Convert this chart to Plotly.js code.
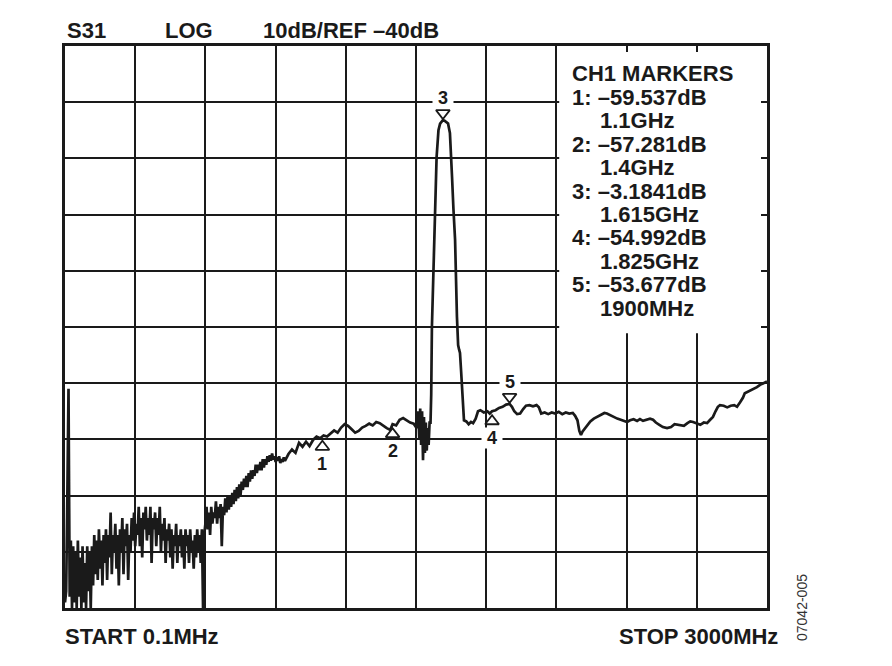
<!DOCTYPE html>
<html>
<head>
<meta charset="utf-8">
<script src="https://cdn.plot.ly/plotly-3.0.1.min.js"></script>
<style>body{margin:0;background:#fff}</style>
</head>
<body>
<div id="myDiv" style="width:892px;height:666px;"></div>
<script>
// S31 sweep, 0.1MHz .. 3000MHz
var lowFreq = [0.1,5,10,15,20,25,30,35,40,45,50,55,60,65,70,75,80,85,90,95,100,105,110,115,120,125,130,135,140,145,150,155,160,165,170,175,180,185,190,195,200,205,210,215,220,225,230,235,240,245,250,255,260,265,270,275,280,285,290,295,300,305,310,315,320,325,330,335,340,345,350,355,360,365,370,375,380,385,390,395,400,405,410,415,420,425,430,435,440,445,450,455,460,465,470,475,480,485,490,495,500,505,510,515,520,525,530,535,540,545,550,555,560,565,570,575,580,585,590,595];
var lowDb = [-89,-87,-70,-51,-88,-78,-90,-79,-89,-80,
  -90,-78,-88,-81,-90,-79,-89,-82,-90,-79,
  -87,-80,-90,-79,-86,-77,-84,-78,-85,-76,
  -83,-78,-86,-77,-82,-76,-85,-77,-81,-73,
  -84,-77,-80,-75,-83,-77,-86,-76,-80,-74,
  -84,-76,-79,-75,-85,-77,-80,-74,-78,-73,
  -79,-75,-77,-72,-79,-74,-81,-73,-76,-72,
  -78,-74,-77,-72,-82,-74,-76,-73,-79,-74,
  -77,-72,-80,-75,-78,-74,-82,-76,-78,-75,
  -81,-76,-83,-77,-79,-75,-82,-77,-79,-76,
  -81,-77,-83,-76,-79,-77,-82,-76,-80,-78,
  -83,-77,-81,-76,-80,-77,-82,-76,-90,-77];

var riseFreq = [600,605,610,615,620,625,630,635,640,645,650,655,660,665,670,675,680,685,690,695,700,705,710,715,720,725,730,735,740,745,750,755,760,765,770,775,780,785,790,795,800,805,810,815,820,825,830,835,840,845,850,855,860,865,870,875,880,885,890,895,900,905,910,915,920,925,930,935];
var riseDb = [-75,-72,-76,-73,-77,-72,-75,-73,-74,-71,
  -75,-72,-74,-71.5,-79,-72,-73.5,-70.5,-73,-70,
  -72.5,-70,-72,-69.5,-71.5,-69,-71,-68.5,-70.5,-68,
  -70,-67.5,-69,-67,-68.5,-66.5,-68.5,-66,-67.5,-65.5,
  -67,-65.5,-66.5,-64.5,-66,-64.5,-65.5,-64,-65.5,-63.5,
  -65,-63.5,-64.5,-63,-64,-62.8,-63.8,-62.5,-63.6,-63,
  -64,-63.2,-63.8,-63,-64.2,-63.5,-64,-63.2];

var midFreq = [940,955,970,985,1000,1015,1030,1045,1060,1075,1090,1105,1120,1135,1150,1165,1180,1195,1210,1225,1240,1255,1270,1285,1300,1315,1330,1345,1360,1375,1390,1400,1415,1430,1445,1460,1475,1490,1500];
var midDb = [-63.8,-62.6,-61.8,-62.4,-60.6,-61.3,-60.4,-61.2,-60.1,-59.5,
  -59.8,-59.3,-59.5,-58.9,-58.4,-58.8,-57.9,-57.3,-57.6,-58.2,
  -58.8,-58.5,-57.9,-57.6,-57.2,-57.5,-56.9,-57.1,-57.6,-58,
  -58.3,-57.3,-57.5,-56.5,-56.2,-56.6,-57,-57.2,-57.8];

var peakFreq = [1505,1510,1514,1518,1522,1526,1530,1534,1538,1542,1546,1550,1554,1558,1562,1565,1568,1573,1581,1588,1596,1603,1610,1615,1622,1630,1637,1645,1650,1654,1660,1667,1675,1680,1684,1688,1693,1697,1701,1705];
var peakDb = [-57.8,-55,-60,-54.5,-61,-55,-63.7,-56,-62.4,-57,
  -62,-58,-61,-57,-57,-52,-40,-30,-20.4,-9.8,
  -5,-3.8,-3.3,-3.2,-3.3,-3.5,-3.8,-5.5,-9,-13.3,
  -19,-24.5,-38.2,-43.2,-44,-44.6,-48,-51.7,-55,-56.6];

var highFreq = [1715,1725,1735,1744,1755,1765,1775,1790,1805,1815,1825,1840,1855,1870,1885,1900,1910,1920,1932,1945,1958,1970,1985,2000,2015,2025,2035,2050,2065,2080,2095,2110,2125,2140,2155,2170,2180,2190,2198,2205,2212,2220,2231,2245,2260,2275,2290,2305,2316,2330,2345,2360,2375,2390,2402,2415,2430,2445,2457,2470,2485,2500,2513,2525,2540,2555,2573,2590,2605,2628,2645,2660,2672,2684,2700,2715,2730,2744,2755,2769,2780,2790,2799,2815,2830,2845,2860,2872,2885,2897,2905,2915,2930,2945,2957,2970,2983,2991,3000];
var highDb = [-56.8,-57.3,-56.9,-57.1,-56.3,-55,-54.8,-55.2,-55,-55.4,
  -55.0,-54.8,-54.4,-54.2,-53.8,-53.7,-54.2,-55,-55.5,-55.4,
  -54.6,-54,-53.9,-54.1,-53.9,-54.3,-55.4,-55.2,-55.5,-55.2,
  -55.4,-55.1,-55.5,-55.2,-55.4,-55.3,-55.8,-56.6,-58.5,-59.2,
  -58.6,-58.2,-57.6,-56.8,-56.3,-56.0,-55.6,-55.3,-55.4,-55.7,
  -55.9,-56.3,-56.5,-56.8,-56.9,-56.6,-56.4,-56.7,-56.4,-56.7,
  -56.5,-56.3,-56.5,-57,-57.4,-57.8,-58,-57.8,-57.3,-57.4,
  -57.6,-57.1,-56.8,-56.9,-57.2,-57.4,-57.0,-57.1,-56.6,-56,
  -55,-54.2,-53.9,-54,-54.3,-54,-53.9,-54.2,-53.4,-52.6,
  -51.8,-51.6,-51.2,-50.9,-50.7,-50.3,-50.0,-49.8,-49.7];

// markers
var markerFreq = [1100, 1400, 1615, 1825, 1900];
var markerDb = [-59.537, -57.281, -3.1841, -54.992, -53.677];
var markerFreqLabel = ['1.1GHz', '1.4GHz', '1.615GHz', '1.825GHz', '1900MHz'];
var markerPointsDown = [false, false, true, false, true];

var headerText = ['S31', 'LOG', '10dB/REF \u201340dB'];
var startText = 'START 0.1MHz';
var stopText = 'STOP 3000MHz';
var figId = '07042-005';

// plot area in page pixels
var PL = 65, PR = 767, PT = 46, PB = 608;
var Y_RANGE = [-90, 10];
function px(x) { return (x - PL) / (PR - PL); }
function py(y) { return (PB - y) / (PB - PT); }
// pixels -> dB on the y axis (used to hang triangles just off the marker value)
var DB_PER_PX = (Y_RANGE[1] - Y_RANGE[0]) / (PB - PT);

var INK = '#1a1a1a';
var FONT = 'Liberation Sans, Arial, sans-serif';

var trace = {
  x: lowFreq.concat(riseFreq, midFreq, peakFreq, highFreq),
  y: lowDb.concat(riseDb, midDb, peakDb, highDb),
  type: 'scatter',
  mode: 'lines',
  line: {color: INK, width: 2.7},
  hoverinfo: 'skip'
};

// open triangles: up ones sit under the value, down ones above it
var TRI_SIZE = 12;
function markerGroup(wantDown) {
  var xs = [], ys = [];
  var shiftPx = wantDown ? 7 : -10;
  for (var k = 0; k < markerFreq.length; k++) {
    if (markerPointsDown[k] === wantDown) {
      xs.push(markerFreq[k]);
      ys.push(markerDb[k] + shiftPx * DB_PER_PX);
    }
  }
  return {
    x: xs, y: ys, type: 'scatter', mode: 'markers', hoverinfo: 'skip',
    marker: {
      symbol: wantDown ? 'triangle-down' : 'triangle-up',
      size: TRI_SIZE, color: 'white',
      line: {color: INK, width: 1.8}
    }
  };
}

var shapes = [];
var annotations = [];

// white box behind the marker table
shapes.push({
  type: 'rect', xref: 'x', yref: 'y', layer: 'between',
  x0: 2112, x1: 3000, y0: -41.1, y1: 10,
  fillcolor: 'white', line: {width: 0}
});

// marker numbers (white, tight box so the grid is cut but the triangle is not)
for (var i = 0; i < markerFreq.length; i++) {
  var down = markerPointsDown[i];
  annotations.push({
    x: markerFreq[i], y: markerDb[i], xref: 'x', yref: 'y',
    text: '\u00a0' + (i + 1) + '\u00a0', showarrow: false,
    yanchor: 'middle', xanchor: 'center',
    yshift: down ? 22 : -27,
    bgcolor: 'white', borderpad: 0,
    font: {family: FONT, size: 18, color: INK, weight: 'bold'}
  });
}

// marker table text
var tableLines = [{t: 'CH1 MARKERS', indent: false}];
for (var j = 0; j < markerFreq.length; j++) {
  tableLines.push({t: (j + 1) + ': \u2013' + Math.abs(markerDb[j]) + 'dB', indent: false});
  tableLines.push({t: markerFreqLabel[j], indent: true});
}
tableLines.forEach(function (ln, k) {
  annotations.push({
    xref: 'paper', yref: 'paper',
    x: px(ln.indent ? 598 : 570), y: py(74 + k * 23.4),
    xanchor: 'left', yanchor: 'middle',
    text: ln.t, showarrow: false,
    font: {family: FONT, size: 22, color: INK, weight: 'bold'}
  });
});

// header
var headerX = [65, 163, 261];
headerText.forEach(function (t, k) {
  annotations.push({
    xref: 'paper', yref: 'paper', x: px(headerX[k]), y: py(30),
    xanchor: 'left', yanchor: 'middle', text: t, showarrow: false,
    font: {family: FONT, size: 22, color: INK, weight: 'bold'}
  });
});

// start / stop
annotations.push({
  xref: 'paper', yref: 'paper', x: px(63), y: py(636),
  xanchor: 'left', yanchor: 'middle', text: startText, showarrow: false,
  font: {family: FONT, size: 22, color: INK, weight: 'bold'}
});
annotations.push({
  xref: 'paper', yref: 'paper', x: px(780), y: py(636),
  xanchor: 'right', yanchor: 'middle', text: stopText, showarrow: false,
  font: {family: FONT, size: 22, color: INK, weight: 'bold'}
});
annotations.push({
  xref: 'paper', yref: 'paper', x: px(802), y: py(607),
  xanchor: 'center', yanchor: 'middle', text: figId, showarrow: false,
  textangle: -90,
  font: {family: FONT, size: 14, color: '#333'}
});

var axisStyle = {
  showgrid: true, gridcolor: INK, gridwidth: 2,
  zeroline: false, showline: true, linecolor: INK, linewidth: 3,
  mirror: 'allticks', ticks: 'inside', ticklen: 6, tickwidth: 2, tickcolor: INK,
  showticklabels: false, fixedrange: true
};

var layout = {
  width: 892, height: 666,
  margin: {l: PL, r: 892 - PR, t: PT, b: 666 - PB},
  paper_bgcolor: 'white', plot_bgcolor: 'white',
  showlegend: false,
  xaxis: Object.assign({range: [0, 3000], tick0: 0, dtick: 300}, axisStyle),
  yaxis: Object.assign({range: Y_RANGE, tick0: 0, dtick: 10}, axisStyle),
  shapes: shapes,
  annotations: annotations
};

Plotly.newPlot('myDiv', [trace, markerGroup(false), markerGroup(true)], layout, {displayModeBar: false, staticPlot: true});
</script>
</body>
</html>
